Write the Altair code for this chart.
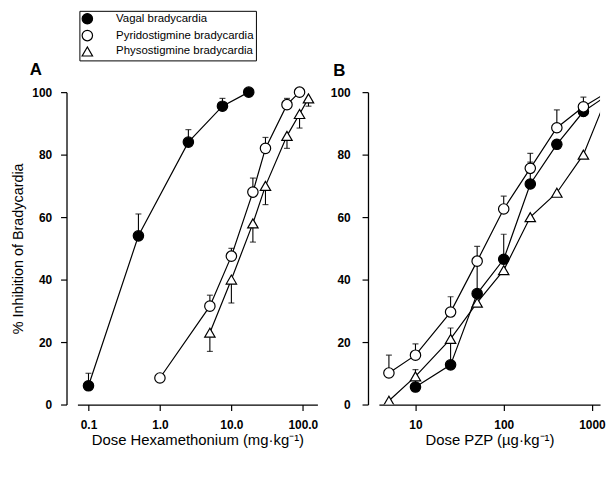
import altair as alt
import pandas as pd

series_names = ["Vagal bradycardia", "Pyridostigmine bradycardia", "Physostigmine bradycardia"]

# ---------- Panel A : Hexamethonium (mg/kg) ----------
a_vagal_dose = [0.1, 0.5, 2.5, 7.5, 17.5]
a_vagal_val = [6, 54, 84, 95.5, 100]
a_vagal_err = [10, 61, 88, 98, None]

a_pyr_dose = [1, 5, 10, 20, 30, 60, 90]
a_pyr_val = [8.5, 31.5, 47.5, 68, 82, 96, 100]
a_pyr_err = [None, 35, 50, 72.5, 85.5, 98, None]

a_phy_dose = [5, 10, 20, 30, 60, 90, 120]
a_phy_val = [23, 40, 58, 70, 86, 93, 98]
a_phy_err = [17, 32.5, 52, 64, 82, 88.5, 95.5]

# ---------- Panel B : PZP (ug/kg) ----------
b_vagal_dose = [10, 25, 50, 100, 200, 400, 800, 1500]
b_vagal_val = [5.6, 12.7, 35.5, 46.5, 70.6, 83.3, 93.8, 99]
b_vagal_err = [11.2, 24.5, 45, 54.5, 77.6, None, None, None]

b_pyr_dose = [5, 10, 25, 50, 100, 200, 400, 800, 1500]
b_pyr_val = [10.1, 15.8, 29.6, 45.9, 62.6, 75.6, 88.6, 95.3, 100]
b_pyr_err = [15.8, 19.4, 34.5, 50.6, 66.7, 80.4, 94.3, 98.4, None]

b_phy_dose = [5, 10, 25, 50, 100, 200, 400, 800, 1500]
b_phy_val = [1.2, 9, 21, 32.6, 43, 60, 67.8, 80, 99]
b_phy_err = [None] * 9

a_ticks = [0.1, 1, 10, 100]
b_ticks = [10, 100, 1000]
y_ticks = [0, 20, 40, 60, 80, 100]

FONT = "Liberation Sans"


def frame(groups):
    rows = []
    for name, doses, vals, errs in groups:
        for d, v, e in zip(doses, vals, errs):
            rows.append({"series": name, "dose": d, "value": v, "err": e})
    return pd.DataFrame(rows)


df_a = frame([
    (series_names[0], a_vagal_dose, a_vagal_val, a_vagal_err),
    (series_names[1], a_pyr_dose, a_pyr_val, a_pyr_err),
    (series_names[2], a_phy_dose, a_phy_val, a_phy_err),
])
df_b = frame([
    (series_names[0], b_vagal_dose, b_vagal_val, b_vagal_err),
    (series_names[1], b_pyr_dose, b_pyr_val, b_pyr_err),
    (series_names[2], b_phy_dose, b_phy_val, b_phy_err),
])

shape_scale = alt.Scale(domain=series_names, range=["circle", "circle", "triangle-up"])
fill_scale = alt.Scale(domain=series_names, range=["black", "white", "white"])
stroke_scale = alt.Scale(domain=series_names, range=["black", "black", "black"])


def panel(df, xdomain, xticks, xfmt, xtitle, ytitle, label, w, h, ylabpad, tdx, clip):
    x = alt.X("dose:Q",
              scale=alt.Scale(type="log", domain=xdomain, nice=False),
              axis=alt.Axis(values=xticks, format=xfmt, title=xtitle, grid=False,
                            tickSize=6, labelPadding=9, titlePadding=2,
                            labelFont=FONT, labelFontSize=12, labelFontWeight="bold",
                            titleFont=FONT, titleFontSize=15, titleFontWeight="normal",
                            domainColor="black", tickColor="black", domainWidth=1.3,
                            tickWidth=1.2, labelColor="black", titleColor="black",
                            labelFlush=False))
    yaxis_kwargs = dict(values=y_ticks, grid=False, offset=11, tickSize=6,
                        labelPadding=ylabpad, titlePadding=6,
                        labelFont=FONT, labelFontSize=12, labelFontWeight="bold",
                        titleFont=FONT, titleFontSize=14.5, titleFontWeight="normal",
                        domainColor="black", tickColor="black", domainWidth=1.3,
                        tickWidth=1.2, labelColor="black", titleColor="black")
    if ytitle is None:
        yaxis = alt.Axis(title=None, **yaxis_kwargs)
    else:
        yaxis = alt.Axis(title=ytitle, **yaxis_kwargs)
    y = alt.Y("value:Q", scale=alt.Scale(domain=[0, 100], nice=False), axis=yaxis)

    base = alt.Chart(df)
    lines = base.mark_line(color="black", strokeWidth=1.2, clip=clip).encode(
        x=x, y=y, detail="series:N", order="dose:Q")
    errdf = base.transform_filter("datum.err != null")
    rules = errdf.mark_rule(color="black", strokeWidth=1.1, clip=clip).encode(
        x=x, y=y, y2="err:Q")
    caps = errdf.mark_tick(color="black", orient="horizontal", size=6, thickness=1.2,
                           clip=clip).encode(x=x, y=alt.Y("err:Q"))
    pts = base.mark_point(filled=True, size=110, strokeWidth=1.2,
                          opacity=1, clip=clip).encode(
        x=x, y=y,
        shape=alt.Shape("series:N", scale=shape_scale, title=None),
        fill=alt.Fill("series:N", scale=fill_scale, title=None),
        stroke=alt.Stroke("series:N", scale=stroke_scale, title=None),
    )
    return alt.layer(lines, rules, caps, pts).properties(
        width=w, height=h,
        title=alt.TitleParams(label, anchor="start", font=FONT, fontSize=17,
                              fontWeight="bold", color="black", offset=6, dx=tdx),
    )


chart_a = panel(df_a, [0.07, 160], a_ticks, ".1f",
                "Dose Hexamethonium (mg·kg⁻¹)", "% Inhibition of Bradycardia", "A",
                242, 315, 9, 19, False)
chart_b = panel(df_b, [3.85, 1235], b_ticks, "d",
                "Dose PZP (µg·kg⁻¹)", None, "B", 223, 315, 12, 3, True)

chart = alt.hconcat(chart_a, chart_b, spacing=11).resolve_scale(
    x="independent", y="independent"
).configure_view(stroke=None).configure_legend(
    orient="none", legendX=2, legendY=-82, strokeColor="black", padding=2,
    labelFont=FONT, labelFontSize=11.5, labelColor="black", symbolSize=110,
    symbolStrokeWidth=1.2, rowPadding=1, labelOffset=23,
    titleFontSize=0
).properties(padding={"left": 2, "top": 0, "right": 0, "bottom": 0})

chart.save("out.html", embed_options={"renderer": "svg", "actions": False})
